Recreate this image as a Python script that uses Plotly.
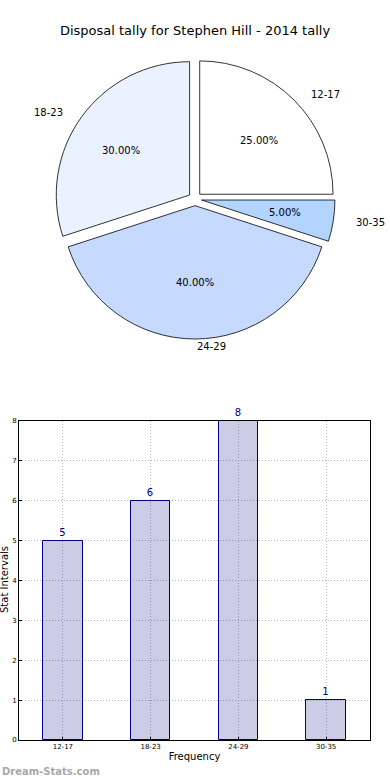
import math
import plotly.graph_objects as go

categories = ["12-17", "18-23", "24-29", "30-35"]
counts = [5, 6, 8, 1]
pie_colors = ["#ffffff", "#eaf1ff", "#c6d9ff", "#b3d4ff"]
y_ticks = [0, 1, 2, 3, 4, 5, 6, 7, 8]
title_text = "Disposal tally for Stephen Hill - 2014 tally"

W, H = 390, 780
FONT = "DejaVu Sans"

fig = go.Figure()

fig.add_trace(go.Pie(
    labels=categories,
    values=counts,
    sort=False,
    direction="counterclockwise",
    rotation=0,
    pull=[0.05] * len(counts),
    marker=dict(colors=pie_colors, line=dict(color="#000000", width=0.8)),
    textinfo="none",
    domain=dict(x=[0, 1], y=[0.5654, 0.9244]),
    showlegend=False,
    hoverinfo="label+value+percent",
))

# labels and percentages placed at slice mid-angles (matplotlib style)
total = sum(counts)
cx, cy = 195, 199
rx, ry = 140, 128
start = 0.0
for lab, v in zip(categories, counts):
    frac = v / total
    mid = (start + frac / 2) * 2 * math.pi
    start += frac
    c, s = math.cos(mid), math.sin(mid)
    # outside label
    lx = cx + rx * 1.15 * c
    ly = cy - ry * 1.15 * s
    xanchor = "left" if c >= -0.01 else "right"
    fig.add_annotation(
        x=lx / W, y=1 - ly / H, xref="paper", yref="paper",
        text=lab, showarrow=False, xanchor=xanchor, yanchor="middle",
        font=dict(family=FONT, size=10, color="#000000"),
    )
    # percentage inside
    tx = cx + rx * 0.65 * c
    ty = cy - ry * 0.65 * s
    fig.add_annotation(
        x=tx / W, y=1 - ty / H, xref="paper", yref="paper",
        text=f"{frac * 100:.2f}%", showarrow=False,
        xanchor="center", yanchor="middle",
        font=dict(family=FONT, size=10, color="#000000"),
    )

fig.add_trace(go.Bar(
    x=categories,
    y=counts,
    width=0.45,
    marker=dict(color="rgba(0,0,128,0.2)", line=dict(color="#000080", width=1)),
    text=[str(c) for c in counts],
    textposition="outside",
    textfont=dict(family=FONT, size=10, color="#000080"),
    cliponaxis=False,
    xaxis="x", yaxis="y",
    showlegend=False,
))

grid_style = dict(showgrid=True, gridcolor="#b8b8b8", griddash="1px,2px", gridwidth=1)

fig.update_layout(
    width=W, height=H,
    margin=dict(l=0, r=0, t=0, b=0),
    paper_bgcolor="white",
    plot_bgcolor="white",
    font=dict(family=FONT, color="#000000"),
    title=dict(text=title_text, x=0.5, xanchor="center", y=1 - 30 / H,
               yanchor="middle", font=dict(family=FONT, size=13, color="#000000")),
    bargap=0,
    xaxis=dict(
        domain=[19 / W, 370 / W],
        anchor="y",
        range=[-0.5, 3.5],
        showline=True, linecolor="#000000", linewidth=1, mirror=True,
        ticks="inside", ticklen=3, tickcolor="#000000",
        tickfont=dict(family=FONT, size=7, color="#000000"),
        title=dict(text="Frequency", font=dict(family=FONT, size=10), standoff=2),
        automargin=False,
        **grid_style,
    ),
    yaxis=dict(
        domain=[1 - 740 / H, 1 - 421 / H],
        anchor="x",
        range=[0, 8],
        tickvals=y_ticks,
        showline=True, linecolor="#000000", linewidth=1, mirror=True,
        ticks="inside", ticklen=3, tickcolor="#000000",
        zeroline=False,
        tickfont=dict(family=FONT, size=7, color="#000000"),
        automargin=False,
        **grid_style,
    ),
)

fig.add_annotation(
    x=4 / W, y=1 - 580 / H, xref="paper", yref="paper",
    text="Stat Intervals", textangle=-90, showarrow=False,
    xanchor="center", yanchor="middle",
    font=dict(family=FONT, size=10, color="#000000"),
)

fig.add_annotation(
    x=0, y=1 - 771 / H, xref="paper", yref="paper",
    text="<b>Dream-Stats.com</b>", showarrow=False,
    xanchor="left", yanchor="middle",
    font=dict(family=FONT, size=10, color="#a8a8a8"),
)

fig.write_html(
    "out.html",
    config={"displayModeBar": False},
    post_script="document.body.style.margin='0';document.body.style.overflow='hidden';",
)
